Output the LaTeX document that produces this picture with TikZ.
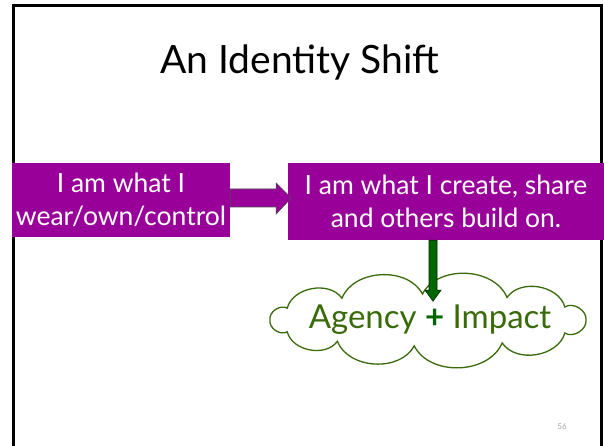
\documentclass[tikz,border=0pt]{standalone}
\usepackage{fontspec}
\setmainfont{Lato}
\usetikzlibrary{calc}
\definecolor{boxpurple}{HTML}{990099}
\definecolor{cloudgreen}{HTML}{3A6B0A}
\definecolor{arrowgreen}{HTML}{006600}
\tikzset{
  pbox/.style={fill=boxpurple, text=white, font=\fontsize{26.5}{33}\selectfont, align=center, inner sep=0pt},
  puff/.style={bend left=65},
}
\begin{document}
\begin{tikzpicture}[x=1pt,y=-1pt]
\useasboundingbox (0,0) rectangle (604,446);
\fill[white] (0,0) rectangle (604,446);
% frame
\draw[line width=3pt] (13.5,460) -- (13.5,6) -- (601.5,6) -- (601.5,460);
% title
\node[font=\fontsize{39}{44}\selectfont] (title) at (300,62) {An Identity Shift};
% boxes
\node[pbox, minimum width=218pt, minimum height=74pt] (L) at (121,200) {I am what I\\wear/own/control};
\node[pbox, minimum width=316pt, minimum height=77pt] (R) at (446,201.5) {I am what I create, share\\and others build on.};
% purple arrow
\draw[fill=boxpurple, draw=black!70, line width=0.6pt]
  ($(L.east)+(0,-11)$) -- ++(46,0) -- ++(0,-6) -- ($(L.east)+(61,-2)$) -- ($(L.east)+(46,14)$) -- ++(0,-7) -- ($(L.east)+(0,7)$) -- cycle;
% cloud
\coordinate (C) at (428,320);
\foreach \a [count=\i] in {0,30,62,95,125,153,180,207,237,268,300,330}
  \coordinate (c\i) at ($(C)+({158*cos(\a)},{26*sin(\a)})$);
\draw[draw=cloudgreen, line width=1.3pt, fill=white]
  (c1) to[puff] (c2) to[puff] (c3) to[puff] (c4) to[puff] (c5) to[puff] (c6)
  to[puff] (c7) to[puff] (c8) to[puff] (c9) to[puff] (c10) to[puff] (c11) to[puff] (c12) to[puff] cycle;
\node[text=cloudgreen, font=\fontsize{33}{38}\selectfont] (T) at (430,320) {Agency {\bfseries\color{arrowgreen}+} Impact};
% green arrow
\coordinate (gs) at (R.south -| 433,0);
\draw[fill=arrowgreen, draw=black!60!arrowgreen, line width=0.6pt]
  ($(gs)+(-4,0)$) -- ++(0,50) -- ++(-4,0) -- ($(gs)+(0,61)$) -- ($(gs)+(8,50)$) -- ++(-4,0) -- ($(gs)+(4,0)$) -- cycle;
% page number
\node[text=black!35, font=\fontsize{8}{9}\selectfont] (pn) at (562,427) {56};
\end{tikzpicture}
\end{document}
